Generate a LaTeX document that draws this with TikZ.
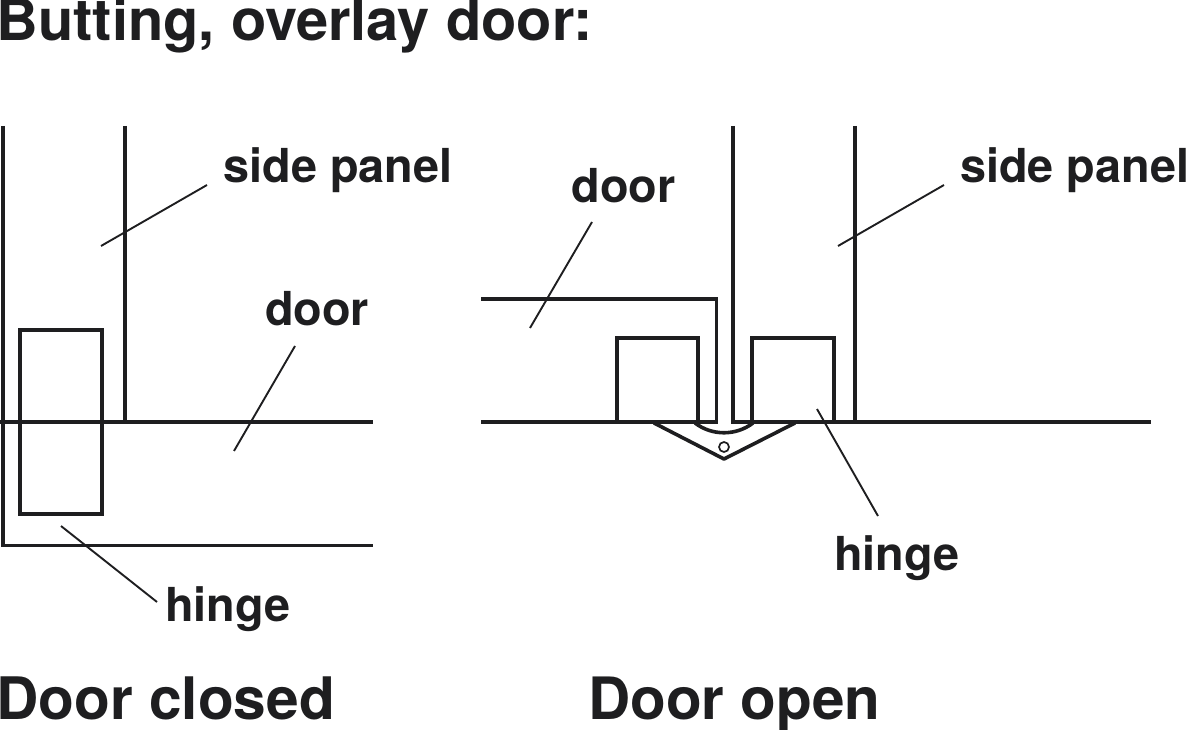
\documentclass[tikz,border=0pt]{standalone}
\usepackage{fontspec}
\setmainfont{TeX Gyre Heros}[BoldFont={* Bold}]
\begin{document}
\begin{tikzpicture}[x=1pt,y=-1pt,
 thick line/.style={line width=3.6pt,draw=ink,line cap=butt,line join=miter},
 thin line/.style={line width=1.9pt,draw=ink},
 lab/.style={font=\bfseries\fontsize{46.8}{47}\selectfont,text=ink,inner sep=0pt,anchor=base west},
 head/.style={font=\bfseries\fontsize{57.8}{58}\selectfont,text=ink,inner sep=0pt,anchor=base west}]
\definecolor{ink}{HTML}{1E1E20}
\useasboundingbox (0,0) rectangle (1187,730);
\node[head] (title) at (-3.5,41) {Butting, overlay door:};
\node[head,font=\bfseries\fontsize{58.6}{59}\selectfont] (closed) at (-4,719.5) {Door closed};
\node[head,font=\bfseries\fontsize{58.4}{59}\selectfont] (open) at (588,719.5) {Door open};
\node[lab] (sp1) at (223.5,182.5) {side panel};
\node[lab] (sp2) at (960,182.5) {side panel};
\node[lab] (door1) at (265,325.5) {door};
\node[lab] (door2) at (571.5,202.5) {door};
\node[lab] (hinge1) at (165,621.5) {hinge};
\node[lab] (hinge2) at (834,570.5) {hinge};
\draw[thick line] (3,126) -- (3,545.5) -- (373,545.5);
\draw[thick line] (125,126) -- (125,422);
\draw[thick line] (0,422) -- (373,422);
\draw[thick line] (20,330) rectangle (102,514);
\draw[thin line] (101,246) -- (207,185);
\draw[thin line] (234,451) -- (295,346);
\draw[thin line] (61,526) -- (157,602);
\draw[thick line] (481,422) -- (716.5,422) -- (716.5,299) -- (481,299);
\draw[thick line] (733,126) -- (733,422) -- (855,422);
\draw[thick line] (855,126) -- (855,422) -- (1151,422);
\draw[thick line] (617,422) -- (617,338) -- (698,338) -- (698,422);
\draw[thick line] (752,422) -- (752,338) -- (834,338) -- (834,422);
\draw[thick line,line join=round] (654,423) -- (724,459) -- (795,423);
\draw[thick line] (695,423) .. controls (712,436) and (736,436) .. (753,423);
\draw[line width=1.7pt,draw=ink] (724,447) circle (5);
\draw[thin line] (530,328) -- (592,222);
\draw[thin line] (838,246) -- (944,185);
\draw[thin line] (817,409) -- (878,516);
\end{tikzpicture}
\end{document}
